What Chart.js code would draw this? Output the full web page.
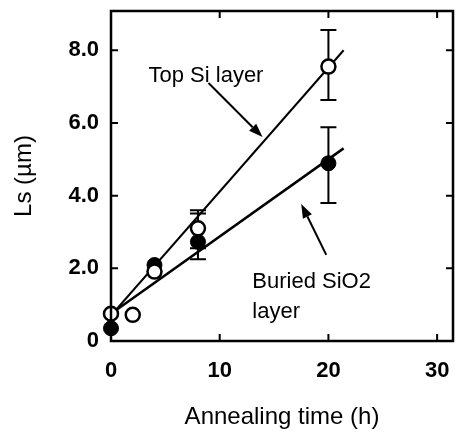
<!DOCTYPE html>
<html>
<head>
<meta charset="utf-8">
<script src="https://cdn.jsdelivr.net/npm/chart.js@4.4.1/dist/chart.umd.min.js"></script>
<style>
  html, body { margin: 0; padding: 0; background: #ffffff; }
  #wrap { width: 457px; height: 434px; position: relative; }
</style>
</head>
<body>
<div id="wrap"><canvas id="c" width="457" height="434"></canvas></div>
<script>
// ---- data ----
const timeTop = [0, 2, 4, 8, 20];            // h, open circles (Top Si layer)
const lsTop = [0.75, 0.72, 1.91, 3.1, 7.55];  // µm
const errTopLow = [null, null, null, 2.55, 6.63];
const errTopHigh = [null, null, null, 3.6, 8.56];

const timeBuried = [0, 4, 8, 20];             // h, filled circles (Buried SiO2 layer)
const lsBuried = [0.35, 2.09, 2.73, 4.89];    // µm
const errBurLow = [null, null, 2.25, 3.8];
const errBurHigh = [null, null, 3.51, 5.88];

const fitTopX = [0, 21.4];
const fitTopY = [0.7, 8.0];
const fitBurX = [0, 21.4];
const fitBurY = [0.75, 5.3];

const xTicks = [0, 10, 20, 30];
const xTickLabels = ["0", "10", "20", "30"];
const yTicks = [0, 2, 4, 6, 8];
const yTickLabels = ["0", "2.0", "4.0", "6.0", "8.0"];

const xTitle = "Annealing time (h)";
const yTitle = "Ls (µm)";
const labelTop = "Top Si layer";
const labelBur = ["Buried SiO2", "layer"];

const pts = (xs, ys) => xs.map((x, i) => ({ x: x, y: ys[i] }));
const FONT = "'Liberation Sans', Arial, Helvetica, sans-serif";

const noPad = s => { s.paddingTop = 0; s.paddingBottom = 0; s.paddingLeft = 0; s.paddingRight = 0; };

const framePlugin = {
  id: 'frame',
  beforeDatasetsDraw(chart) {
    const ctx = chart.ctx, xs = chart.scales.x, ys = chart.scales.y;
    ctx.save();
    ctx.strokeStyle = '#000';
    ctx.lineWidth = 2;
    const cap = 8;
    const drawBars = (xsArr, lo, hi) => {
      xsArr.forEach((t, i) => {
        if (lo[i] == null) return;
        const px = xs.getPixelForValue(t);
        const y1 = ys.getPixelForValue(lo[i]);
        const y2 = ys.getPixelForValue(hi[i]);
        ctx.beginPath();
        ctx.moveTo(px, y1); ctx.lineTo(px, y2);
        ctx.moveTo(px - cap, y1); ctx.lineTo(px + cap, y1);
        ctx.moveTo(px - cap, y2); ctx.lineTo(px + cap, y2);
        ctx.stroke();
      });
    };
    drawBars(timeTop, errTopLow, errTopHigh);
    drawBars(timeBuried, errBurLow, errBurHigh);
    ctx.restore();
  },
  afterDraw(chart) {
    const ctx = chart.ctx, a = chart.chartArea, xs = chart.scales.x, ys = chart.scales.y;
    ctx.save();
    ctx.strokeStyle = '#000';
    ctx.lineWidth = 2.5;
    ctx.strokeRect(a.left, a.top, a.right - a.left, a.bottom - a.top);
    ctx.lineWidth = 2;
    const tl = 7;
    ctx.beginPath();
    xTicks.forEach(v => {
      const px = xs.getPixelForValue(v);
      ctx.moveTo(px, a.bottom); ctx.lineTo(px, a.bottom - tl);
      ctx.moveTo(px, a.top); ctx.lineTo(px, a.top + tl);
    });
    yTicks.forEach(v => {
      const py = ys.getPixelForValue(v);
      ctx.moveTo(a.left, py); ctx.lineTo(a.left + tl, py);
      ctx.moveTo(a.right, py); ctx.lineTo(a.right - tl, py);
    });
    ctx.stroke();

    // annotations
    const P = (x, y) => [xs.getPixelForValue(x), ys.getPixelForValue(y)];
    ctx.fillStyle = '#000';
    ctx.font = '22px ' + FONT;
    ctx.textAlign = 'left';
    ctx.textBaseline = 'alphabetic';
    let p = P(3.45, 7.13);
    ctx.fillText(labelTop, p[0], p[1]);
    p = P(13.0, 1.45);
    ctx.fillText(labelBur[0], p[0], p[1]);
    p = P(13.0, 0.63);
    ctx.fillText(labelBur[1], p[0], p[1]);

    const arrow = (x1, y1, x2, y2) => {
      const [ax, ay] = P(x1, y1), [bx, by] = P(x2, y2);
      const ang = Math.atan2(by - ay, bx - ax);
      const hl = 14, hw = 5;
      const sx = bx - hl * Math.cos(ang), sy = by - hl * Math.sin(ang);
      ctx.lineWidth = 2;
      ctx.beginPath();
      ctx.moveTo(ax, ay); ctx.lineTo(sx, sy);
      ctx.stroke();
      ctx.beginPath();
      ctx.moveTo(bx, by);
      ctx.lineTo(sx + hw * Math.sin(ang), sy - hw * Math.cos(ang));
      ctx.lineTo(sx - hw * Math.sin(ang), sy + hw * Math.cos(ang));
      ctx.closePath();
      ctx.fill();
    };
    arrow(8.97, 7.1, 13.94, 5.61);
    arrow(19.8, 2.37, 17.5, 3.77);
    ctx.restore();
  }
};

new Chart(document.getElementById('c'), {
  type: 'scatter',
  data: {
    datasets: [
      {
        label: 'Top Si layer',
        data: pts(timeTop, lsTop),
        pointRadius: 7,
        pointBorderWidth: 2.5,
        pointBackgroundColor: '#fff',
        pointBorderColor: '#000',
        showLine: false,
        clip: false
      },
      {
        label: 'Buried SiO2 layer',
        data: pts(timeBuried, lsBuried),
        pointRadius: 7.5,
        pointBorderWidth: 1,
        pointBackgroundColor: '#000',
        pointBorderColor: '#000',
        showLine: false,
        clip: false
      },
      {
        label: 'fit top',
        data: pts(fitTopX, fitTopY),
        showLine: true,
        borderColor: '#000',
        borderWidth: 2,
        pointRadius: 0,
        fill: false
      },
      {
        label: 'fit buried',
        data: pts(fitBurX, fitBurY),
        showLine: true,
        borderColor: '#000',
        borderWidth: 2.5,
        pointRadius: 0,
        fill: false
      }
    ]
  },
  options: {
    responsive: false,
    animation: false,
    devicePixelRatio: 1,
    layout: { autoPadding: false, padding: { top: 11, right: 4, left: 0, bottom: 0 } },
    plugins: { legend: { display: false }, tooltip: { enabled: false } },
    scales: {
      x: {
        type: 'linear',
        min: 0, max: 31.46,
        afterBuildTicks: s => { s.ticks = xTicks.map(v => ({ value: v })); },
        afterFit: s => { s.height = 93; noPad(s); },
        grid: { display: false, drawTicks: false },
        border: { display: false },
        ticks: {
          padding: 17,
          color: '#000',
          font: { family: FONT, size: 22, weight: 'bold' },
          callback: v => xTickLabels[xTicks.indexOf(v)]
        },
        title: {
          display: true, text: xTitle, color: '#000',
          font: { family: FONT, size: 24 },
          padding: { top: 2, bottom: 2 }
        }
      },
      y: {
        type: 'linear',
        min: 0, max: 9.08,
        afterBuildTicks: s => { s.ticks = yTicks.map(v => ({ value: v })); },
        afterFit: s => { s.width = 111; noPad(s); },
        grid: { display: false, drawTicks: false },
        border: { display: false },
        ticks: {
          padding: 12,
          color: '#000',
          font: { family: FONT, size: 22, weight: 'bold' },
          callback: v => yTickLabels[yTicks.indexOf(v)]
        },
        title: {
          display: true, text: yTitle, color: '#000',
          font: { family: FONT, size: 24 },
          padding: { top: 10, bottom: 0 }
        }
      }
    }
  },
  plugins: [framePlugin]
});
</script>
</body>
</html>
